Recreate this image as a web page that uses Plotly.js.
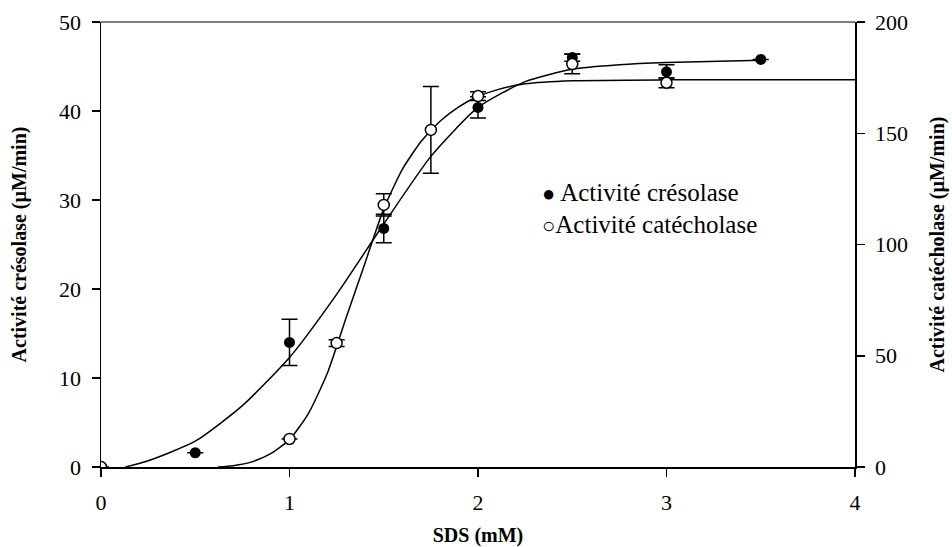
<!DOCTYPE html>
<html>
<head>
<meta charset="utf-8">
<script src="https://cdn.plot.ly/plotly-3.0.1.min.js"></script>
<style>html,body{margin:0;padding:0;background:#fff;}</style>
</head>
<body>
<div id="chart" style="width:952px;height:547px;"></div>
<script>
// Crésolase activity (left axis, µM/min)
const cresX = [0.5, 1, 1.5, 2, 2.5, 3, 3.5];
const cresY = [1.6, 14.0, 26.8, 40.4, 46.0, 44.4, 45.8];
const cresErr = [0, 2.6, 1.6, 1.2, 0.4, 0.8, 0];
// Catécholase activity (right axis, µM/min)
const catX = [0, 1, 1.25, 1.5, 1.75, 2, 2.5, 3];
const catY = [0, 12.6, 55.7, 117.8, 151.5, 166.7, 181.1, 172.7];
const catErr = [0, 0, 1.5, 5, 19.5, 2, 4.4, 2.2];
// Fitted curves
const cresFitX = [0.13, 0.25, 0.5, 0.75, 1.0, 1.25, 1.5, 1.75, 2.0, 2.25, 2.5, 2.75, 3.0, 3.5];
const cresFitY = [0, 0.7, 2.9, 6.9, 12.3, 19.4, 27.3, 34.9, 40.4, 43.3, 44.7, 45.2, 45.45, 45.7];
const catFitX = [0.62, 0.7, 0.8, 0.9, 1.0, 1.1, 1.2, 1.3, 1.4, 1.5, 1.6, 1.7, 1.8, 1.9, 2.0, 2.1, 2.25, 2.5, 3.0, 4.0];
const catFitY = [0, 0.6, 2.3, 6.0, 12.3, 24, 42, 67, 91.5, 116, 134, 146.5, 155.5, 162, 166.5, 169.5, 172.2, 173.6, 174, 174];
// Tick labels
const xTicks = [0, 1, 2, 3, 4];
const yLeftTicks = [0, 10, 20, 30, 40, 50];
const yRightTicks = [0, 50, 100, 150, 200];
const legendSymbols = ['\u25CF', '\u25CB'];
const legendLabels = [' Activité crésolase', 'Activité catécholase'];

const FONT = 'Liberation Serif';

const traces = [
  {x: cresFitX, y: cresFitY, type: 'scatter', mode: 'lines', line: {color: '#000', width: 1.5, shape: 'spline', smoothing: 0.6}, yaxis: 'y', showlegend: false, hoverinfo: 'skip'},
  {x: catFitX, y: catFitY, type: 'scatter', mode: 'lines', line: {color: '#000', width: 1.5, shape: 'spline', smoothing: 0.6}, yaxis: 'y2', showlegend: false, hoverinfo: 'skip'},
  {x: cresX, y: cresY, type: 'scatter', mode: 'markers', name: 'Activité crésolase', yaxis: 'y',
   marker: {symbol: 'circle', size: 11, color: '#000'},
   error_y: {type: 'data', array: cresErr, visible: true, color: '#000', thickness: 1.5, width: 8}, showlegend: false},
  {x: catX, y: catY, type: 'scatter', mode: 'markers', name: 'Activité catécholase', yaxis: 'y2',
   marker: {symbol: 'circle', size: 11, color: '#fff', line: {color: '#000', width: 1.5}},
   error_y: {type: 'data', array: catErr, visible: true, color: '#000', thickness: 1.5, width: 8}, showlegend: false}
];

const axisCommon = {
  showgrid: false, zeroline: false, showline: true, linecolor: '#000', linewidth: 1.5,
  ticks: 'outside', ticklen: 8, tickwidth: 1.5, tickcolor: '#000',
  tickfont: {family: FONT, size: 22, color: '#000'}
};

const layout = {
  width: 952, height: 547,
  margin: {l: 101, r: 97, t: 22, b: 80},
  paper_bgcolor: '#fff', plot_bgcolor: '#fff',
  showlegend: false,
  font: {family: FONT, color: '#000'},
  xaxis: Object.assign({}, axisCommon, {
    range: [0, 4], tickvals: xTicks, ticktext: xTicks.map(String),
    mirror: false, ticklabelstandoff: 7,
    title: {text: 'SDS (mM)', font: {family: FONT, size: 20, color: '#000', weight: 'bold'}, standoff: 16}
  }),
  yaxis: Object.assign({}, axisCommon, {
    range: [0, 50], tickvals: yLeftTicks, ticktext: yLeftTicks.map(String), ticklabelstandoff: 6,
    title: {text: 'Activité crésolase (µM/min)', font: {family: FONT, size: 20, color: '#000', weight: 'bold'}, standoff: 27}
  }),
  yaxis2: Object.assign({}, axisCommon, {
    range: [0, 200], tickvals: yRightTicks, ticktext: yRightTicks.map(String), ticklabelstandoff: 6,
    overlaying: 'y', side: 'right', anchor: 'x',
    title: {text: 'Activité catécholase (µM/min)', font: {family: FONT, size: 20, color: '#000', weight: 'bold'}, standoff: 23}
  }),
  shapes: [
    {type: 'line', xref: 'paper', yref: 'paper', x0: 0, x1: 1, y0: 1, y1: 1, line: {color: '#555', width: 1.5}}
  ],
  annotations: [
    {xref: 'x', yref: 'y', x: 2.33, y: 30.8, xanchor: 'left', yanchor: 'middle', showarrow: false,
     text: '<span style="font-size:22px">' + legendSymbols[0] + '</span>' + legendLabels[0], font: {family: FONT, size: 25, color: '#000'}},
    {xref: 'x', yref: 'y', x: 2.33, y: 27.3, xanchor: 'left', yanchor: 'middle', showarrow: false,
     text: '<span style="font-size:22px">' + legendSymbols[1] + '</span>' + legendLabels[1], font: {family: FONT, size: 25, color: '#000'}}
  ]
};

Plotly.newPlot('chart', traces, layout, {displayModeBar: false, staticPlot: true});
</script>
</body>
</html>
